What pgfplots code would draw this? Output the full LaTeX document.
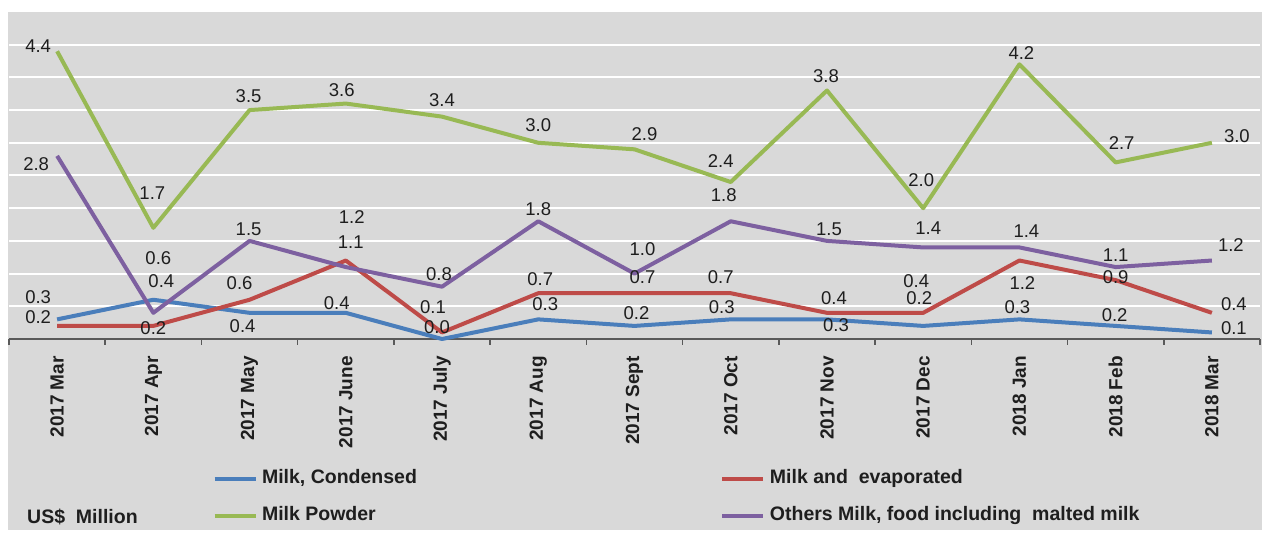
\documentclass[border=0pt]{standalone}
\usepackage{fontspec}
\setmainfont{Liberation Sans}
\usepackage{pgfplots}
\pgfplotsset{compat=1.18}
\usepackage{pgfplotstable}

\definecolor{cBlue}{HTML}{4A7EBB}
\definecolor{cRed}{HTML}{BE4B48}
\definecolor{cGreen}{HTML}{98B954}
\definecolor{cPurple}{HTML}{7D60A0}
\definecolor{bgGray}{HTML}{D9D9D9}
\definecolor{axGray}{HTML}{595959}
\definecolor{lblBlack}{HTML}{1E1E1E}

\pgfplotstableread{
x y dx dy
0 0.3 -19 22
1 0.6 5 42
2 0.4 -7 -13
3 0.4 -9 10
4 0.0 -5 12
5 0.3 7 15
6 0.2 2 13
7 0.3 -9 12
8 0.3 9 -6
9 0.2 -4 28
10 0.3 -2 12
11 0.2 -1 11
12 0.1 22 4
}\condensed

\pgfplotstableread{
x y dx dy
0 0.2 -19 9
1 0.2 0 -2
2 0.6 -10 17
3 1.2 6 43
4 0.1 -9 25
5 0.7 2 14
6 0.7 8 16
7 0.7 -10 16
8 0.4 7 15
9 0.4 -7 32
10 1.2 3 -23
11 0.9 0 3
12 0.4 22 9
}\evaporated

\pgfplotstableread{
x y dx dy
0 4.4 -19 5
1 1.7 -1 35
2 3.5 -1 14
3 3.6 -4 13
4 3.4 0 17
5 3.0 0 18
6 2.9 10 15
7 2.4 -10 21
8 3.8 -1 14
9 2.0 -2 28
10 4.2 2 11
11 2.7 6 19
12 3.0 25 7
}\powder

\pgfplotstableread{
x y dx dy
0 2.8 -21 -8
1 0.4 8 32
2 1.5 -1 12
3 1.1 5 25
4 0.8 -3 13
5 1.8 0 12
6 1.0 8 24
7 1.8 -7 26
8 1.5 2 12
9 1.4 5 19
10 1.4 7 16
11 1.1 0 12
12 1.2 19 15
}\others

\pgfplotsset{
  lbl/.style={
    mark=none, line width=4pt, line join=round,
    nodes near coords={\pgfmathprintnumber[fixed,fixed zerofill,precision=1,assume math mode=true]{\pgfplotspointmeta}},
    point meta=y,
    visualization depends on={\thisrow{dx}\as\dx},
    visualization depends on={\thisrow{dy}\as\dy},
    every node near coord/.append style={anchor=center, xshift=\dx, yshift=\dy,
      text=lblBlack, font=\fontsize{18.5}{20}\selectfont, inner sep=0pt},
  },
}

\begin{document}
\begin{tikzpicture}
\path[use as bounding box] (0pt,0pt) rectangle (1265pt,534pt);
\fill[bgGray] (8pt,4pt) rectangle (1262pt,522pt);
\begin{axis}[
  at={(9pt,195pt)}, anchor=south west,
  scale only axis, width=1251pt, height=327pt,
  xmin=-0.5, xmax=12.5, ymin=0, ymax=5,
  clip=false,
  axis x line*=bottom, axis y line*=left,
  y axis line style={draw=none},
  x axis line style={draw=axGray, line width=2pt, -},
  xtick={0,...,12},
  xticklabels={2017 Mar,2017 Apr,2017 May,2017 June,2017 July,2017 Aug,2017 Sept,2017 Oct,2017 Nov,2017 Dec,2018 Jan,2018 Feb,2018 Mar},
  minor xtick={-0.5,0.5,...,12.5},
  major tick length=0pt, minor tick length=6pt, tick align=outside,
  minor tick style={draw=axGray, line width=1.5pt},
  ytick={0.5,1,...,4.5}, yticklabels={},
  ymajorgrids, major grid style={white, line width=2pt},
  xticklabel style={rotate=90, anchor=east, font=\bfseries\fontsize{19}{22}\selectfont, inner sep=0pt, text=lblBlack},
  xticklabel shift=17pt,
  legend columns=2, legend cell align=left,
  legend style={at={(0.1627,-0.4006)}, anchor=north west, draw=none, fill=none,
    inner sep=0pt, outer sep=0pt, text=lblBlack,
    font=\bfseries\fontsize{19.5}{22}\selectfont,
    nodes={inner xsep=4.5pt, inner ysep=0pt, text height=14pt, text depth=4.5pt},
    row sep=18.5pt,
    /tikz/every even column/.append style={column sep=299pt}},
  legend image code/.code={\draw[#1, line width=4pt] (0pt,0pt) -- (41pt,0pt);},
]
\addplot[cBlue, lbl] table[x=x,y=y]{\condensed};
\addlegendentry{Milk, Condensed}
\addplot[cRed, lbl] table[x=x,y=y]{\evaporated};
\addlegendentry{Milk and~ evaporated}
\addplot[cGreen, lbl] table[x=x,y=y]{\powder};
\addlegendentry{Milk Powder}
\addplot[cPurple, lbl] table[x=x,y=y]{\others};
\addlegendentry{Others Milk, food including~ malted milk}
\end{axis}
\node[anchor=base west, inner sep=0pt, text=lblBlack, font=\bfseries\fontsize{19.5}{22}\selectfont] at (27pt,10pt) {US\$~ Million};
\end{tikzpicture}
\end{document}
